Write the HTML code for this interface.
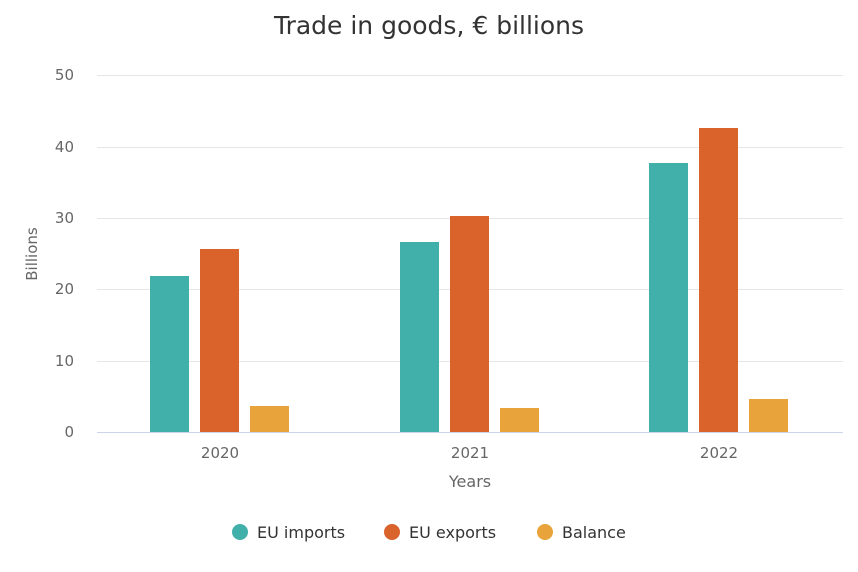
<!DOCTYPE html>
<html><head><meta charset="utf-8"><style>
body{margin:0;background:#fff;}
svg{display:block;font-family:"DejaVu Sans","Liberation Sans",sans-serif;}
</style></head><body>
<svg width="858" height="572" viewBox="0 0 858 572" xmlns="http://www.w3.org/2000/svg">
<rect width="858" height="572" fill="#fff"/>
<text x="429" y="34" text-anchor="middle" font-size="25" fill="#333">Trade in goods, € billions</text>
<g stroke="#e6e6e6" stroke-width="1">
<line x1="97" x2="843" y1="75.5" y2="75.5"/>
<line x1="97" x2="843" y1="147.5" y2="147.5"/>
<line x1="97" x2="843" y1="218.5" y2="218.5"/>
<line x1="97" x2="843" y1="289.5" y2="289.5"/>
<line x1="97" x2="843" y1="361.5" y2="361.5"/>
</g>
<line x1="97" x2="843" y1="432.5" y2="432.5" stroke="#ccd6eb"/>
<g font-size="15" fill="#666" text-anchor="end">
<text x="74" y="80">50</text><text x="74" y="152">40</text><text x="74" y="223">30</text>
<text x="74" y="294">20</text><text x="74" y="366">10</text><text x="74" y="437">0</text>
</g>
<text transform="translate(37,254) rotate(-90)" text-anchor="middle" font-size="15" fill="#666">Billions</text>
<g font-size="15" fill="#666" text-anchor="middle">
<text x="220" y="458">2020</text><text x="470" y="458">2021</text><text x="719" y="458">2022</text>
</g>
<text x="470" y="487" text-anchor="middle" font-size="16" fill="#666">Years</text>
<g fill="#41b0aa"><rect x="150" y="276" width="39" height="156"/><rect x="400" y="242" width="39" height="190"/><rect x="649" y="163" width="39" height="269"/></g>
<g fill="#d9632b"><rect x="200" y="249" width="39" height="183"/><rect x="450" y="216" width="39" height="216"/><rect x="699" y="128" width="39" height="304"/></g>
<g fill="#e8a43a"><rect x="250" y="406" width="39" height="26"/><rect x="500" y="408" width="39" height="24"/><rect x="749" y="399" width="39" height="33"/></g>
<g font-size="16" fill="#333">
<circle cx="240" cy="532" r="8" fill="#41b0aa"/><text x="257" y="538">EU imports</text>
<circle cx="392" cy="532" r="8" fill="#d9632b"/><text x="409" y="538">EU exports</text>
<circle cx="545" cy="532" r="8" fill="#e8a43a"/><text x="562" y="538">Balance</text>
</g>
</svg>
</body></html>
